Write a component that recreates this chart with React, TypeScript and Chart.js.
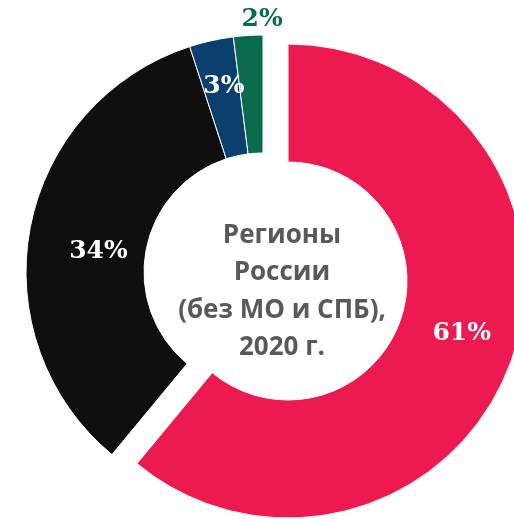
import React, { useEffect, useRef } from "react";
import { Chart, registerables } from "chart.js";

Chart.register(...registerables);

// ---- data ----
const categories = ["Регионы (красный)", "Чёрный", "Синий", "Зелёный"];
const shares = [61, 34, 3, 2];
const valueLabels = ["61%", "34%", "3%", "2%"];
const centerLines = ["Регионы", "России", "(без МО и СПБ),", "2020 г."];

// ---- style ----
const sliceColors = ["#EC1A50", "#0F0F0F", "#0B3F6E", "#0A6B4C"];
const labelColors = ["#FFFFFF", "#FFFFFF", "#FFFFFF", "#0A6B4C"];
const explodeBy = [26.6, 0, 0, 0];
const labelRadius = [181, 166, 191, 254];
const labelAngleShift = [-3.5, -3.2, 0.8, 3.4];

const explodePlugin = {
  id: "explode",
  afterDatasetUpdate(chart: any, args: any) {
    const meta = chart.getDatasetMeta(args.index);
    meta.data.forEach((arc: any, i: number) => {
      const d = explodeBy[i] || 0;
      if (!d) return;
      const half = (arc.startAngle + arc.endAngle) / 2;
      arc.x += Math.cos(half) * d;
      arc.y += Math.sin(half) * d;
    });
  },
};

const labelPlugin = {
  id: "labels",
  afterDatasetsDraw(chart: any) {
    const ctx = chart.ctx;
    const meta = chart.getDatasetMeta(0);
    ctx.save();
    ctx.textAlign = "center";
    ctx.textBaseline = "middle";
    ctx.font = "bold 25px 'DejaVu Serif'";
    meta.data.forEach((arc: any, i: number) => {
      const half = (arc.startAngle + arc.endAngle) / 2 + (labelAngleShift[i] * Math.PI) / 180;
      const r = labelRadius[i];
      ctx.fillStyle = labelColors[i];
      ctx.fillText(valueLabels[i], arc.x + Math.cos(half) * r, arc.y + Math.sin(half) * r + 1.5);
    });
    // center text
    const ca = chart.chartArea;
    const cx = (ca.left + ca.right) / 2 + 19;
    const cy = (ca.top + ca.bottom) / 2 + 27;
    ctx.font = "bold 26px 'Open Sans'";
    ctx.fillStyle = "#595959";
    ctx.textBaseline = "alphabetic";
    centerLines.forEach((line, i) => {
      ctx.fillText(line, cx, cy + (i - (centerLines.length - 1) / 2) * 37.2);
    });
    ctx.restore();
  },
};

export default function App() {
  const ref = useRef<HTMLCanvasElement | null>(null);
  useEffect(() => {
    if (!ref.current) return;
    const chart = new Chart(ref.current, {
      type: "doughnut",
      data: {
        labels: categories,
        datasets: [
          {
            data: shares,
            backgroundColor: sliceColors,
            borderColor: "#FFFFFF",
            borderWidth: 1,
          },
        ],
      },
      options: {
        animation: false,
        responsive: false,
        devicePixelRatio: 1,
        radius: 237,
        cutout: "50.2%",
        events: [],
        layout: { padding: 0 },
        plugins: {
          legend: { display: false },
          tooltip: { enabled: false },
        },
      },
      plugins: [explodePlugin, labelPlugin],
    });
    return () => chart.destroy();
  }, []);
  return (
    <div
      style={{
        position: "absolute",
        left: 0,
        top: 0,
        width: 514,
        height: 519,
        overflow: "hidden",
        background: "#FFFFFF",
      }}
    >
      <canvas ref={ref} width={526} height={544} style={{ display: "block" }} />
    </div>
  );
}
